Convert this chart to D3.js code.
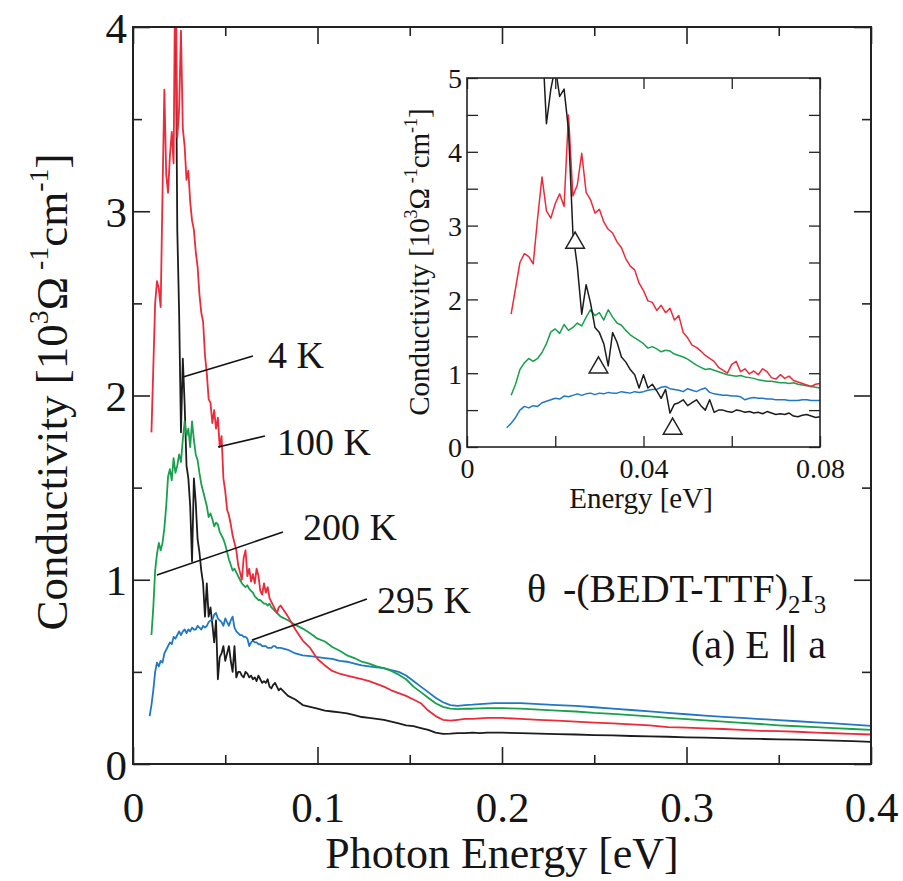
<!DOCTYPE html>
<html><head><meta charset="utf-8">
<script src="https://cdn.jsdelivr.net/npm/d3@7"></script>
<style>
body{margin:0;background:#fff}
svg{display:block}
svg text{font-family:"Liberation Serif","Tinos","Times New Roman","Nimbus Roman","DejaVu Serif",serif !important;fill:#151515}
</style>
</head><body>
<svg id="chart" width="903" height="881"></svg>
<script>
// ---------------- DATA ----------------
const energy = [
  0.008,0.009,0.010,0.011,0.012,0.013,0.014,0.015,0.016,0.017,0.018,0.019,
  0.020,0.021,0.022,0.023,0.024,0.025,0.026,0.027,0.028,0.029,
  0.030,0.031,0.032,0.033,0.034,0.035,0.036,0.037,0.038,0.039,
  0.040,0.041,0.042,0.043,0.044,0.045,0.046,0.047,0.048,0.049,
  0.050,0.051,0.052,0.053,0.054,0.055,0.056,0.057,0.058,0.059,
  0.060,0.061,0.062,0.063,0.064,0.065,0.066,0.067,0.068,0.069,
  0.070,0.071,0.072,0.073,0.074,0.075,0.076,0.077,0.078,0.079,
  0.080,
  0.084,0.088,0.092,0.096,0.100,0.104,0.108,0.112,0.116,0.120,
  0.124,0.128,0.132,0.136,0.140,0.144,0.148,0.152,0.156,0.160,
  0.164,0.168,0.172,0.176,0.180,0.184,0.188,0.192,0.196,0.200,
  0.21,0.22,0.23,0.24,0.25,0.26,0.27,0.28,0.29,0.30,
  0.31,0.32,0.33,0.34,0.35,0.36,0.37,0.38,0.39,0.40
];
// conductivity in 10^3 Ohm^-1 cm^-1
const sigma4K = [
  null,null,null,null,null,null,null,null,null,5.60,4.38,4.85,
  5.15,4.75,4.85,4.30,2.90,2.45,1.80,2.20,1.95,1.62,
  1.55,1.40,1.10,1.55,1.42,1.22,1.15,1.05,0.98,0.80,
  0.98,0.80,0.85,0.76,0.66,0.78,0.46,0.58,0.60,0.64,
  0.56,0.60,0.64,0.56,0.50,0.64,0.47,0.50,0.50,0.48,
  0.47,0.50,0.49,0.47,0.48,0.46,0.47,0.45,0.48,0.46,
  0.44,0.45,0.44,0.46,0.42,0.41,0.43,0.44,0.42,0.40,
  0.41,
  0.37,0.35,0.32,0.31,0.30,0.29,0.285,0.28,0.275,0.265,
  0.255,0.25,0.245,0.24,0.23,0.22,0.21,0.205,0.195,0.185,
  0.17,0.163,0.165,0.168,0.168,0.17,0.168,0.17,0.17,0.17,
  0.168,0.165,0.162,0.16,0.157,0.155,0.152,0.15,0.148,0.145,
  0.143,0.14,0.138,0.136,0.134,0.132,0.13,0.127,0.124,0.12
];
const sigma100K = [
  null,null,1.80,2.15,2.50,2.62,2.58,2.48,3.10,3.66,3.20,3.10,
  3.30,3.43,3.26,4.50,3.40,3.55,3.98,3.45,3.35,3.17,
  3.22,3.05,2.95,2.90,2.78,2.70,2.55,2.45,2.40,2.22,
  2.12,1.98,1.96,1.85,1.92,1.82,1.88,1.72,1.78,1.55,
  1.48,1.38,1.35,1.30,1.24,1.20,1.16,1.08,1.04,1.00,
  1.12,1.16,1.02,1.06,0.99,1.03,0.98,1.06,1.02,0.94,
  0.92,0.98,0.93,0.96,0.90,0.88,0.86,0.84,0.82,0.85,
  0.86,
  0.80,0.73,0.67,0.63,0.57,0.535,0.505,0.49,0.48,0.47,
  0.46,0.45,0.435,0.42,0.40,0.385,0.37,0.35,0.33,0.29,
  0.26,0.24,0.235,0.24,0.245,0.245,0.248,0.25,0.25,0.25,
  0.245,0.24,0.235,0.23,0.225,0.22,0.215,0.21,0.20,0.197,
  0.193,0.19,0.185,0.18,0.178,0.175,0.17,0.167,0.163,0.16
];
const sigma200K = [
  null,null,0.70,0.85,1.05,1.14,1.20,1.16,1.20,1.28,1.40,1.56,
  1.60,1.54,1.66,1.58,1.62,1.68,1.64,1.76,1.86,1.78,
  1.82,1.72,1.86,1.76,1.68,1.65,1.58,1.52,1.48,1.44,
  1.40,1.34,1.36,1.33,1.29,1.31,1.30,1.26,1.24,1.22,
  1.19,1.15,1.11,1.08,1.05,1.06,1.04,1.02,1.00,0.98,
  0.97,0.96,0.97,0.95,0.94,0.93,0.91,0.90,0.89,0.89,
  0.88,0.87,0.87,0.86,0.87,0.85,0.84,0.83,0.82,0.81,
  0.80,
  0.78,0.755,0.735,0.71,0.68,0.665,0.635,0.615,0.59,0.575,
  0.555,0.545,0.53,0.52,0.505,0.485,0.46,0.42,0.39,0.36,
  0.33,0.31,0.30,0.298,0.30,0.30,0.302,0.303,0.303,0.303,
  0.30,0.295,0.29,0.285,0.277,0.272,0.265,0.258,0.25,0.243,
  0.237,0.23,0.223,0.217,0.21,0.205,0.20,0.195,0.19,0.185
];
const sigma295K = [
  null,0.26,0.32,0.40,0.50,0.55,0.53,0.56,0.55,0.60,0.62,0.64,
  0.66,0.65,0.69,0.68,0.70,0.72,0.70,0.72,0.73,0.71,
  0.73,0.72,0.74,0.73,0.73,0.75,0.74,0.73,0.75,0.74,
  0.75,0.77,0.78,0.78,0.81,0.82,0.79,0.78,0.77,0.75,
  0.79,0.77,0.75,0.78,0.80,0.74,0.72,0.71,0.70,0.70,
  0.69,0.69,0.68,0.64,0.66,0.67,0.66,0.66,0.65,0.65,
  0.64,0.64,0.64,0.63,0.63,0.63,0.64,0.64,0.63,0.63,
  0.63,
  0.62,0.60,0.59,0.585,0.58,0.575,0.57,0.56,0.555,0.545,
  0.535,0.53,0.525,0.52,0.51,0.50,0.48,0.45,0.42,0.39,
  0.36,0.335,0.32,0.315,0.32,0.322,0.325,0.328,0.33,0.33,
  0.33,0.325,0.32,0.315,0.308,0.30,0.293,0.286,0.278,0.27,
  0.263,0.256,0.25,0.244,0.238,0.232,0.226,0.22,0.214,0.207
];
const seriesLabels = ["4 K","100 K","200 K","295 K"];
const seriesColors = ["#1c1c1c","#ec2a3a","#18a04c","#1f77c6"];
const mainXTicks = [0,0.1,0.2,0.3,0.4];
const mainXMinor = [0.05,0.15,0.25,0.35];
const mainYTicks = [0,1,2,3,4];
const mainYMinor = [0.5,1.5,2.5,3.5];
const insetXTicks = [0,0.04,0.08];
const insetXMinor = [0.02,0.06];
const insetYTicks = [0,1,2,3,4,5];
const insetYMinor = [0.5,1.5,2.5,3.5,4.5];
// open triangle markers in the inset (energy, conductivity)
const triangleE = [0.0245,0.0298,0.0466];
const triangleS = [2.78,1.09,0.26];
// leader-line annotations (data units): line start, line end, text anchor
const annotLineStart = [[0.0271,2.10],[0.0461,1.72],[0.013,1.026],[0.0645,0.673]];
const annotLineEnd   = [[0.065,2.214],[0.0715,1.78],[0.0813,1.259],[0.1268,0.896]];
const annotText      = [[0.0732,2.149],[0.078,1.677],[0.0921,1.216],[0.1322,0.82]];

// ---------------- DRAW ----------------
const FONT = '"Liberation Serif","Tinos","Times New Roman","Nimbus Roman","DejaVu Serif",serif';
const svg = d3.select("#chart").attr("font-family", FONT);
const seriesData = [sigma4K, sigma100K, sigma200K, sigma295K].map(arr =>
  energy.map((e,i)=>({e, s: arr[i]})));

function rich(sel, parts, size){
  let shift = 0;
  parts.forEach(([t,k])=>{
    const target = k==="sup" ? -0.42*size : k==="sub" ? 0.28*size : 0;
    const ts = sel.append("tspan").text(t).attr("dy", target - shift);
    if(k!=="n") ts.attr("font-size", size*0.62);
    shift = target;
  });
}

function frame(g, x, y, opt){
  const [x0,x1] = x.range(), [y0,y1] = y.range();
  const ax = (axis, tr) => g.append("g").attr("transform", tr).call(axis)
      .attr("font-family", FONT)
      .call(s=>s.select(".domain").remove())
      .call(s=>s.selectAll("line").attr("stroke","#222").attr("stroke-width",opt.tw));
  const b = ax(d3.axisBottom(x).tickValues(opt.xt).tickSize(-opt.maj).tickFormat(opt.xf), `translate(0,${y0})`);
  b.selectAll("text").attr("y", opt.xlab).attr("dy",0).attr("font-size",opt.fs).attr("fill","#151515");
  ax(d3.axisBottom(x).tickValues(opt.xm).tickSize(-opt.min).tickFormat(""), `translate(0,${y0})`);
  ax(d3.axisTop(x).tickValues(opt.xt).tickSize(-opt.maj).tickFormat(""), `translate(0,${y1})`);
  ax(d3.axisTop(x).tickValues(opt.xm).tickSize(-opt.min).tickFormat(""), `translate(0,${y1})`);
  const l = ax(d3.axisLeft(y).tickValues(opt.yt).tickSize(-opt.maj).tickFormat(d3.format("d")), `translate(${x0},0)`);
  l.selectAll("text").attr("x", -opt.ylab).attr("dy","0.35em").attr("font-size",opt.fs).attr("fill","#151515");
  ax(d3.axisLeft(y).tickValues(opt.ym).tickSize(-opt.min).tickFormat(""), `translate(${x0},0)`);
  ax(d3.axisRight(y).tickValues(opt.yt).tickSize(-opt.maj).tickFormat(""), `translate(${x1},0)`);
  ax(d3.axisRight(y).tickValues(opt.ym).tickSize(-opt.min).tickFormat(""), `translate(${x1},0)`);
  g.append("rect").attr("x",x0).attr("y",y1).attr("width",x1-x0).attr("height",y0-y1)
    .attr("fill","none").attr("stroke","#222").attr("stroke-width",opt.fw);
}

// ----- main panel -----
const x = d3.scaleLinear().domain([0,0.4]).range([133,871]);
const y = d3.scaleLinear().domain([0,4]).range([764,27]);

svg.append("clipPath").attr("id","clipMain").append("rect")
  .attr("x",133).attr("y",27).attr("width",871-133).attr("height",764-27);

const main = svg.append("g");
const lineMain = d3.line().defined(d=>d.s!==null).x(d=>x(d.e)).y(d=>y(d.s));
const order = [0,3,2,1];
const curvesMain = main.append("g").attr("clip-path","url(#clipMain)");
order.forEach(i=>{
  curvesMain.append("path").datum(seriesData[i]).attr("d", lineMain)
    .attr("fill","none").attr("stroke",seriesColors[i]).attr("stroke-width",1.8)
    .attr("stroke-linejoin","round");
});

seriesLabels.forEach((lab,i)=>{
  main.append("line")
    .attr("x1",x(annotLineStart[i][0])).attr("y1",y(annotLineStart[i][1]))
    .attr("x2",x(annotLineEnd[i][0])).attr("y2",y(annotLineEnd[i][1]))
    .attr("stroke","#111").attr("stroke-width",1.6);
  main.append("text").attr("x",x(annotText[i][0])).attr("y",y(annotText[i][1]))
    .attr("font-size",38).text(lab);
});

frame(main, x, y, {xt:mainXTicks, xm:mainXMinor, yt:mainYTicks, ym:mainYMinor,
  maj:17, min:9, tw:1.6, fw:2, fs:43, xlab:58, ylab:6, xf:d3.format("")});

const comp = main.append("text").attr("x",x(0.2135)).attr("y",y(0.879)).attr("font-size",40);
comp.append("tspan").text("θ");
const compRest = main.append("text").attr("x",x(0.2135)+36).attr("y",y(0.879)).attr("font-size",40);
rich(compRest, [["-(BEDT-TTF)","n"],["2","sub"],["I","n"],["3","sub"]], 40);
main.append("text").attr("x",826).attr("y",y(0.575)).attr("text-anchor","end").attr("font-size",40)
  .text("(a) E ∥ a");

main.append("text").attr("x",502).attr("y",868).attr("text-anchor","middle").attr("font-size",44)
  .text("Photon Energy [eV]");
const yl = main.append("text").attr("transform","translate(67,392) rotate(-90)")
  .attr("text-anchor","middle").attr("font-size",45);
rich(yl, [["Conductivity [10","n"],["3","sup"],["Ω","n"],[" -1","sup"],["cm","n"],["-1","sup"],["]","n"]], 45);

// ----- inset -----
const xi = d3.scaleLinear().domain([0,0.08]).range([467,820]);
const yi = d3.scaleLinear().domain([0,5]).range([447,78]);
svg.append("clipPath").attr("id","clipInset").append("rect")
  .attr("x",467).attr("y",78).attr("width",820-467).attr("height",447-78);
const inset = svg.append("g");
inset.append("rect").attr("x",467).attr("y",78).attr("width",353).attr("height",369).attr("fill","#fff");
const lineInset = d3.line().defined(d=>d.s!==null && d.e<=0.0805).x(d=>xi(d.e)).y(d=>yi(d.s));
const curvesInset = inset.append("g").attr("clip-path","url(#clipInset)");
[3,2,1,0].forEach(i=>{
  curvesInset.append("path").datum(seriesData[i]).attr("d", lineInset)
    .attr("fill","none").attr("stroke",seriesColors[i]).attr("stroke-width",1.5)
    .attr("stroke-linejoin","round");
});
const tri = d3.symbol().type(d3.symbolTriangle).size(150);
triangleE.forEach((e,i)=>{
  inset.append("path").attr("d",tri)
    .attr("transform",`translate(${xi(e)},${yi(triangleS[i])+1})`)
    .attr("fill","#fff").attr("stroke","#222").attr("stroke-width",1.5);
});
frame(inset, xi, yi, {xt:insetXTicks, xm:insetXMinor, yt:insetYTicks, ym:insetYMinor,
  maj:11, min:11, tw:1.3, fw:1.6, fs:28, xlab:31, ylab:5, xf:d=>d===0?"0":d3.format(".2f")(d)});
inset.append("text").attr("x",641).attr("y",508).attr("text-anchor","middle").attr("font-size",29)
  .text("Energy [eV]");
const yli = inset.append("text").attr("transform","translate(429,262) rotate(-90)")
  .attr("text-anchor","middle").attr("font-size",29);
rich(yli, [["Conductivity [10","n"],["3","sup"],["Ω","n"],[" -1","sup"],["cm","n"],["-1","sup"],["]","n"]], 29);
</script>
</body></html>
